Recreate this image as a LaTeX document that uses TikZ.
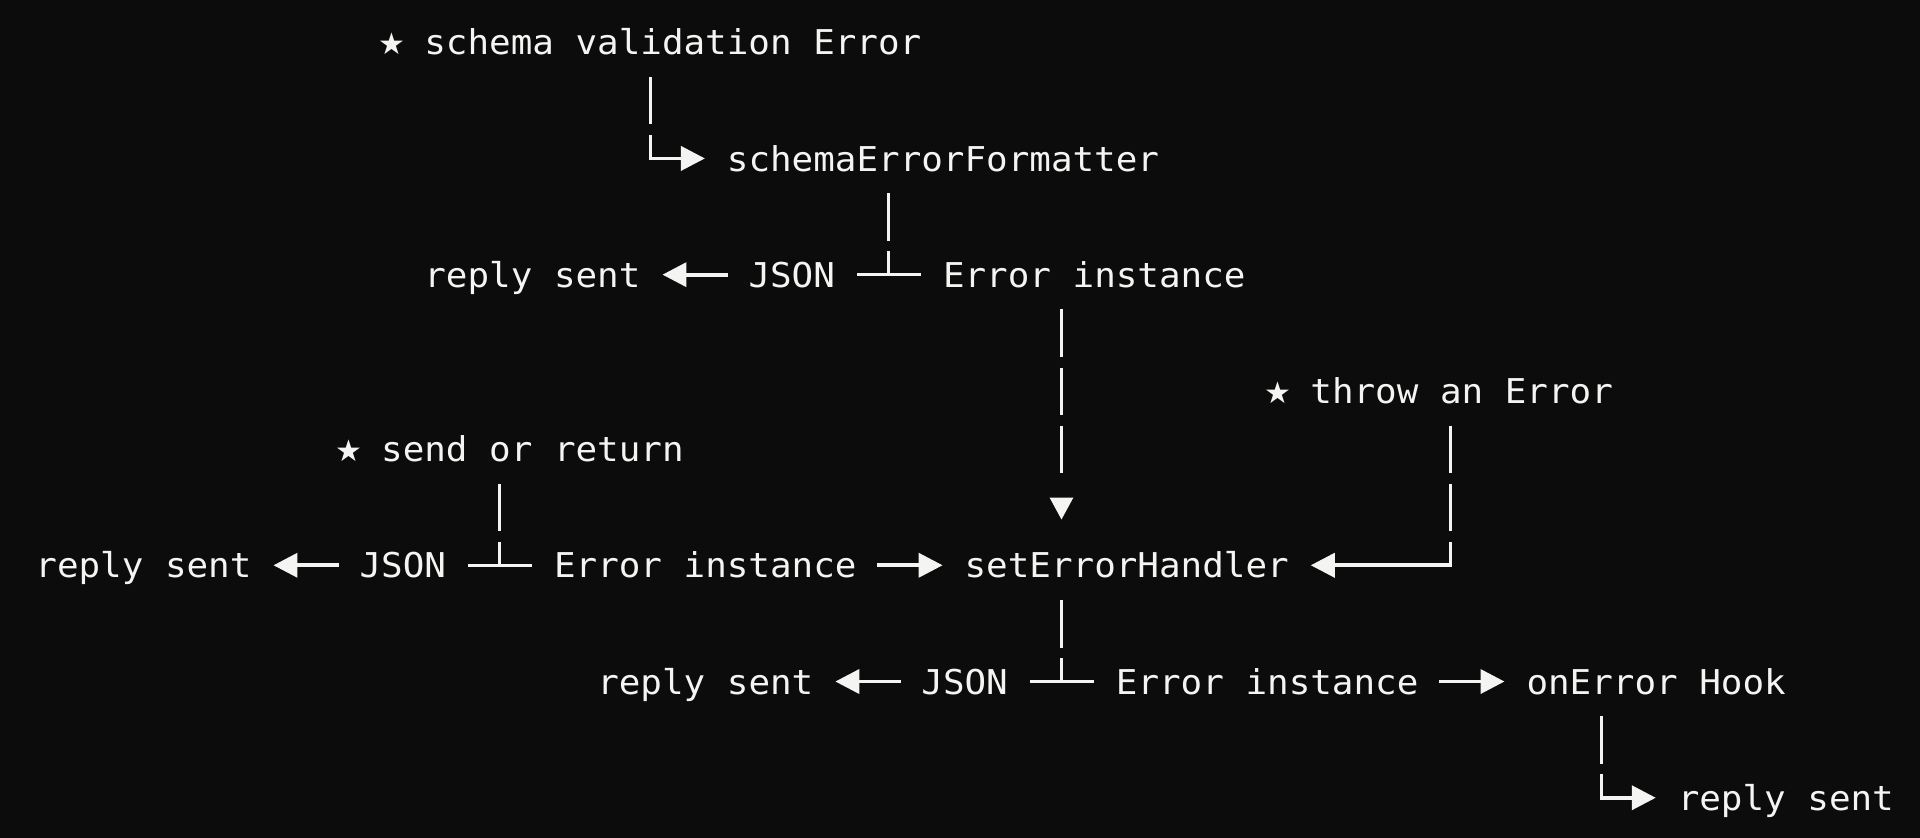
\documentclass[tikz,border=0pt]{standalone}
\usepackage{fontspec}
\setmonofont[FakeStretch=1.05]{DejaVu Sans Mono}
\newfontfamily\symfont{DejaVu Sans}
\usetikzlibrary{arrows.meta,calc}
\definecolor{bg}{RGB}{12,12,12}
\definecolor{fg}{RGB}{244,244,242}
\newcommand{\stargl}{\makebox[10.805pt][c]{\symfont\fontsize{15}{15}\selectfont ★}}
\begin{document}
\begin{tikzpicture}[x=10.805pt, y=-29.06pt,
  txt/.style={anchor=west, inner xsep=10.805pt, inner ysep=0pt,
    text height=18.2pt, text depth=5.5pt, text=fg,
    font=\ttfamily\fontsize{17.09pt}{20pt}\selectfont},
  vdash/.style={draw=fg, line width=1.5pt, dash pattern=on 23.7pt off 5.36pt, dash phase=23.7pt},
  bline/.style={draw=fg, line width=1.5pt},
  arr/.style={draw=fg, fill=fg, line width=1.9pt, line cap=rect, -{Triangle[length=12pt,width=12pt]}},
  downarr/.style={draw=fg, line width=1.5pt,
    dash pattern=on 23.7pt off 5.36pt on 23.7pt off 5.36pt on 23.7pt off 5.36pt on 23.7pt off 60pt,
    dash phase=23.7pt, -{Triangle[length=11pt,width=11.5pt]}, shorten >=10.8pt}]
\fill[bg] (-1.6196,-0.7261) rectangle (87.228,13.692);
\useasboundingbox (-1.6196,-0.7261) rectangle (87.228,13.692);

% columns of the vertical connectors
\coordinate (c21) at (21.5,0);
\coordinate (c28) at (28.5,0);
\coordinate (c39) at (39.5,0);
\coordinate (c47) at (47.5,0);
\coordinate (c65) at (65.5,0);
\coordinate (c72) at (72.5,0);
% junctions
\coordinate (j1) at (28.5,2);
\coordinate (j2) at (39.5,4);
\coordinate (j4) at (65.5,9);
\coordinate (j5) at (21.5,9);
\coordinate (j6) at (47.5,11);
\coordinate (j7) at (72.5,13);

% texts
\node[txt] (sve)   at (15,0)  {\stargl{} schema validation Error};
\node[txt] (sef)   at (31,2)  {schemaErrorFormatter};
\node[txt] (rs1)   at (17,4)  {reply sent};
\node[txt] (json1) at (32,4)  {JSON};
\node[txt] (ei1)   at (41,4)  {Error instance};
\node[txt] (thr)   at (56,6)  {\stargl{} throw an Error};
\node[txt] (sor)   at (13,7)  {\stargl{} send or return};
\node[txt] (rs2)   at (-1,9)  {reply sent};
\node[txt] (json2) at (14,9)  {JSON};
\node[txt] (ei2)   at (23,9)  {Error instance};
\node[txt] (seh)   at (42,9)  {setErrorHandler};
\node[txt] (rs3)   at (25,11) {reply sent};
\node[txt] (json3) at (40,11) {JSON};
\node[txt] (ei3)   at (49,11) {Error instance};
\node[txt] (oeh)   at (68,11) {onError Hook};
\node[txt] (rs4)   at (75,13) {reply sent};

% connectors
\draw[vdash] (sve.south -| c28) -- (j1);
\draw[arr] (j1) -- (sef.west);

\draw[vdash] (sef.south -| c39) -- (j2);
\draw[bline] (ei1.west) -- (json1.east);
\draw[arr] (json1.west) -- (rs1.east);

\draw[downarr] (ei1.south -| c47) -- (seh.north -| c47);

\draw[vdash] (thr.south -| c65) -- (j4);
\draw[arr] (j4) -- (seh.east);

\draw[vdash] (sor.south -| c21) -- (j5);
\draw[bline] (ei2.west) -- (json2.east);
\draw[arr] (json2.west) -- (rs2.east);
\draw[arr] (ei2.east) -- (seh.west);

\draw[vdash] (seh.south -| c47) -- (j6);
\draw[bline] (ei3.west) -- (json3.east);
\draw[arr] (json3.west) -- (rs3.east);
\draw[arr] (ei3.east) -- (oeh.west);

\draw[vdash] (oeh.south -| c72) -- (j7);
\draw[arr] (j7) -- (rs4.west);
\end{tikzpicture}
\end{document}
